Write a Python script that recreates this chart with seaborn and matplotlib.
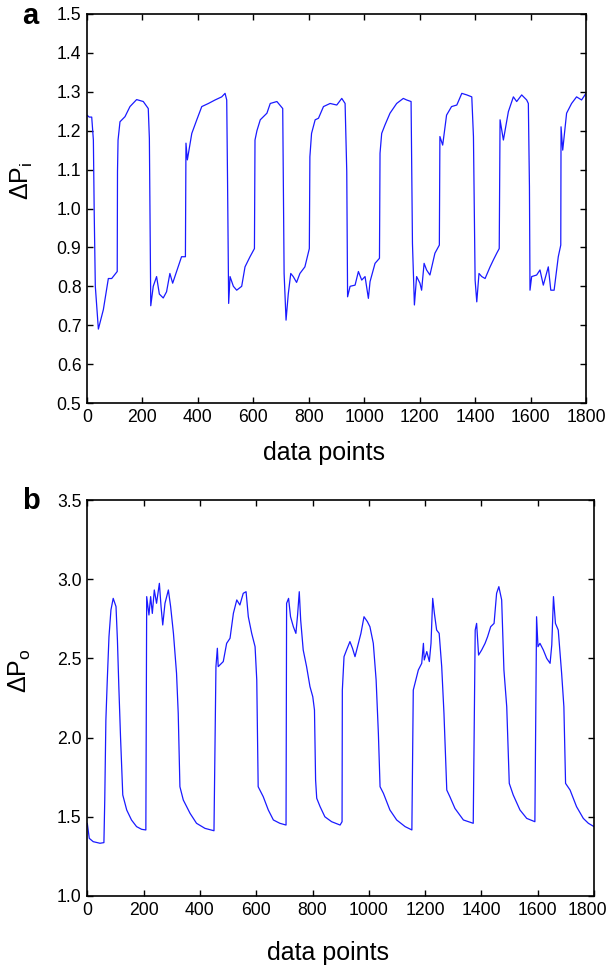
import numpy as np
import pandas as pd
import matplotlib
matplotlib.use("Agg")
import matplotlib.pyplot as plt
from matplotlib.transforms import ScaledTranslation
import seaborn as sns

# panel a: inlet pressure drop, hand-traced vertices
a_x = [0, 8, 17, 23, 26, 30, 41, 59, 77, 89,
       109, 110, 112, 119, 137, 155, 179, 203, 221, 225,
       230, 239, 251, 261, 275, 287, 299, 309, 329, 341,
       355, 357, 362, 378, 396, 414, 438, 462, 486, 498,
       504, 507, 511, 516, 528, 540, 558, 570, 588, 604,
       606, 613, 625, 649, 661, 685, 706, 711, 718, 726,
       735, 744, 756, 768, 786, 802, 804, 810, 823, 835,
       853, 877, 901, 919, 931, 937, 940, 949, 967, 979,
       991, 1003, 1015, 1021, 1039, 1055, 1057, 1063, 1075, 1093,
       1117, 1141, 1153, 1169, 1174, 1181, 1189, 1201, 1207, 1216,
       1225, 1237, 1255, 1271, 1273, 1283, 1297, 1315, 1334, 1352,
       1370, 1388, 1394, 1400, 1406, 1414, 1424, 1436, 1454, 1466,
       1478, 1487, 1490, 1502, 1520, 1538, 1550, 1568, 1586, 1592,
       1596, 1598, 1604, 1622, 1634, 1646, 1664, 1673, 1685, 1700,
       1709, 1710, 1716, 1730, 1748, 1766, 1784, 1800]
a_y = [1.24, 1.235, 1.235, 1.176, 0.99, 0.80, 0.69, 0.74, 0.82, 0.82,
       0.838, 1.095, 1.176, 1.223, 1.236, 1.262, 1.28, 1.275, 1.257, 1.18,
       0.75, 0.80, 0.825, 0.78, 0.77, 0.786, 0.833, 0.808, 0.85, 0.876,
       0.876, 1.168, 1.125, 1.193, 1.228, 1.262, 1.27, 1.279, 1.287, 1.296,
       1.279, 1.07, 0.756, 0.825, 0.80, 0.79, 0.80, 0.85, 0.876, 0.897,
       1.176, 1.20, 1.228, 1.245, 1.27, 1.275, 1.257, 0.833, 0.713, 0.78,
       0.833, 0.825, 0.81, 0.833, 0.85, 0.897, 1.133, 1.193, 1.228, 1.232,
       1.262, 1.27, 1.266, 1.283, 1.27, 1.095, 0.773, 0.80, 0.803, 0.838,
       0.816, 0.825, 0.769, 0.812, 0.859, 0.872, 1.142, 1.193, 1.215, 1.245,
       1.27, 1.283, 1.279, 1.275, 0.91, 0.752, 0.825, 0.808, 0.79, 0.859,
       0.842, 0.829, 0.885, 0.906, 1.185, 1.163, 1.24, 1.262, 1.266, 1.296,
       1.292, 1.287, 1.185, 0.816, 0.76, 0.833, 0.825, 0.82, 0.85, 0.868,
       0.885, 0.897, 1.228, 1.176, 1.249, 1.287, 1.275, 1.292, 1.279, 1.27,
       1.056, 0.79, 0.825, 0.829, 0.842, 0.803, 0.85, 0.79, 0.79, 0.876,
       0.906, 1.21, 1.15, 1.245, 1.27, 1.287, 1.279, 1.296]

# panel b: outlet pressure drop, hand-traced vertices
b_x = [0, 7, 21, 45, 59, 62, 66, 71, 77, 84,
       92, 102, 107, 112, 118, 126, 140, 157, 175, 193,
       208, 211, 219, 225, 231, 238, 246, 256, 262, 268,
       276, 288, 296, 306, 317, 323, 329, 341, 365, 388,
       418, 450, 457, 462, 465, 483, 495, 507, 519, 531,
       542, 554, 564, 572, 584, 596, 602, 607, 625, 643,
       661, 684, 706, 708, 715, 722, 732, 741, 747, 753,
       758, 767, 779, 791, 801, 807, 811, 815, 827, 844,
       868, 898, 905, 906, 912, 921, 933, 942, 951, 963,
       972, 983, 995, 1004, 1016, 1026, 1034, 1040, 1052, 1075,
       1099, 1129, 1153, 1158, 1164, 1176, 1188, 1194, 1197, 1206,
       1215, 1221, 1227, 1233, 1241, 1250, 1259, 1267, 1277, 1288,
       1306, 1336, 1371, 1378, 1383, 1390, 1401, 1413, 1422, 1433,
       1445, 1454, 1462, 1472, 1480, 1490, 1499, 1513, 1537, 1561,
       1590, 1596, 1601, 1608, 1620, 1632, 1644, 1650, 1656, 1663,
       1673, 1685, 1693, 1699, 1715, 1738, 1762, 1780, 1800]
b_y = [1.459, 1.364, 1.343, 1.333, 1.337, 1.606, 2.111, 2.364, 2.637, 2.806,
       2.879, 2.827, 2.616, 2.322, 2.006, 1.638, 1.543, 1.48, 1.438, 1.421,
       1.417, 2.89, 2.774, 2.89, 2.784, 2.932, 2.848, 2.974, 2.827, 2.711,
       2.848, 2.932, 2.827, 2.658, 2.406, 2.153, 1.69, 1.606, 1.522, 1.459,
       1.427, 1.412, 2.448, 2.564, 2.448, 2.48, 2.595, 2.627, 2.785, 2.869,
       2.837, 2.911, 2.921, 2.763, 2.658, 2.574, 2.364, 1.69, 1.627, 1.543,
       1.48, 1.459, 1.448, 2.848, 2.879, 2.763, 2.70, 2.658, 2.774, 2.921,
       2.742, 2.553, 2.448, 2.322, 2.258, 2.174, 1.732, 1.617, 1.564, 1.50,
       1.469, 1.448, 1.469, 2.30, 2.511, 2.553, 2.606, 2.564, 2.511, 2.595,
       2.658, 2.763, 2.732, 2.70, 2.595, 2.364, 2.027, 1.69, 1.648, 1.543,
       1.48, 1.438, 1.417, 2.30, 2.343, 2.427, 2.469, 2.595, 2.49, 2.543,
       2.48, 2.595, 2.879, 2.784, 2.679, 2.658, 2.448, 2.153, 1.669, 1.627,
       1.553, 1.48, 1.459, 2.679, 2.721, 2.521, 2.553, 2.595, 2.637, 2.70,
       2.721, 2.911, 2.953, 2.869, 2.427, 2.195, 1.711, 1.638, 1.543, 1.49,
       1.469, 2.763, 2.574, 2.595, 2.553, 2.50, 2.469, 2.585, 2.89, 2.721,
       2.679, 2.406, 2.195, 1.711, 1.669, 1.564, 1.49, 1.459, 1.438]

x_ticks = [0, 200, 400, 600, 800, 1000, 1200, 1400, 1600, 1800]
a_ticks = [0.5, 0.6, 0.7, 0.8, 0.9, 1.0, 1.1, 1.2, 1.3, 1.4, 1.5]
b_ticks = [1.0, 1.5, 2.0, 2.5, 3.0, 3.5]

sns.set_theme(style="ticks")
plt.rcParams["font.family"] = ["Liberation Sans", "DejaVu Sans"]
plt.rcParams["mathtext.fontset"] = "custom"
plt.rcParams["mathtext.rm"] = "Liberation Sans"
plt.rcParams["mathtext.it"] = "Liberation Sans:italic"
plt.rcParams["text.color"] = "black"
plt.rcParams["axes.labelcolor"] = "black"

fig = plt.figure(figsize=(6.08, 9.68), dpi=100)
ax_a = fig.add_axes([87 / 608, 1 - 403 / 968, 499 / 608, 389 / 968])
ax_b = fig.add_axes([87.3 / 608, 1 - 896 / 968, 506.7 / 608, 396 / 968])

df_a = pd.DataFrame({"x": a_x, "y": a_y})
df_b = pd.DataFrame({"x": b_x, "y": b_y})

panels = [
    (ax_a, df_a, a_ticks, (0.5, 1.5), r"$\Delta\mathrm{P}_\mathrm{i}$", -0.097, -0.104),
    (ax_b, df_b, b_ticks, (1.0, 3.5), r"$\Delta\mathrm{P}_\mathrm{o}$", -0.113, -0.107),
]
for ax, df, yt, ylim, ylab, xlab_y, ylab_x in panels:
    sns.lineplot(data=df, x="x", y="y", ax=ax, sort=False, estimator=None,
                 color="#1a1aff", linewidth=0.9)
    ax.set_xlim(0, 1800)
    ax.set_ylim(*ylim)
    ax.set_xticks(x_ticks)
    ax.set_yticks(yt)
    ax.set_yticklabels(["%.1f" % v for v in yt])
    ax.tick_params(direction="in", length=4, width=1, top=True, right=True,
                   labelsize=12.7, colors="black", pad=4)
    for s in ax.spines.values():
        s.set_visible(True)
        s.set_linewidth(1.2)
        s.set_color("black")
    ax.set_xlabel("data points", fontsize=18)
    ax.set_ylabel(ylab, fontsize=18)
    ax.xaxis.set_label_coords(0.475, xlab_y)
    ax.yaxis.set_label_coords(ylab_x, 0.57)

# last x label of panel b sits a bit left of its tick, as in the original
last = ax_b.get_xticklabels()[-1]
last.set_transform(last.get_transform() + ScaledTranslation(-0.07, 0, fig.dpi_scale_trans))

fig.text(30 / 608, 1 - 16 / 968, "a", fontsize=21, fontweight="bold",
         ha="center", va="center")
fig.text(31 / 608, 1 - 501 / 968, "b", fontsize=21, fontweight="bold",
         ha="center", va="center")

fig.savefig("out.png", dpi=100, facecolor="white")
